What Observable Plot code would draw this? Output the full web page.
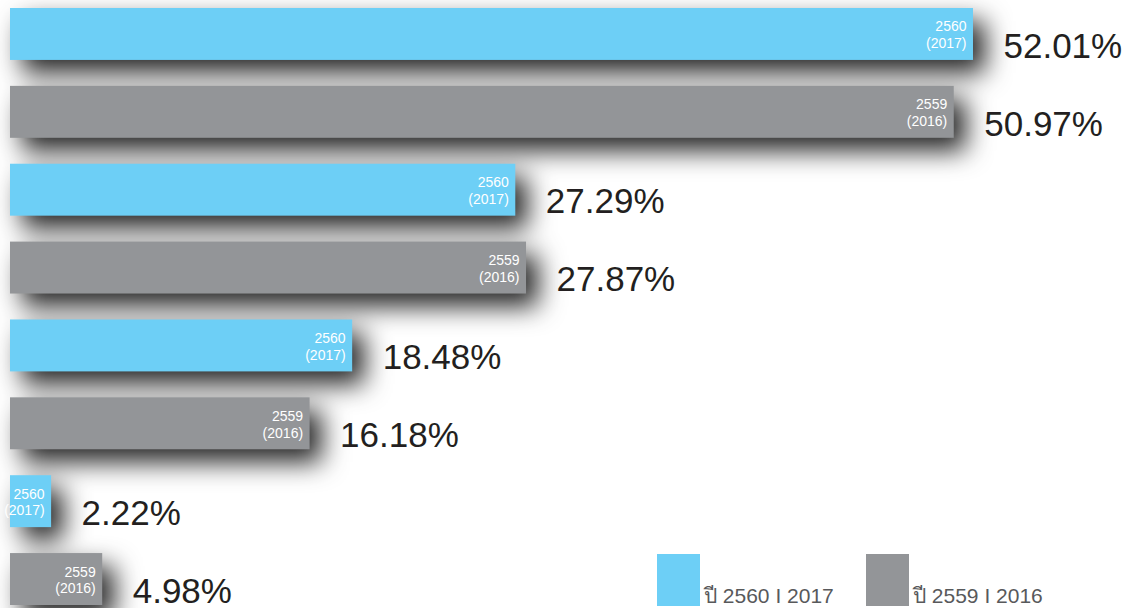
<!DOCTYPE html>
<html>
<head>
<meta charset="utf-8">
<script src="https://cdn.jsdelivr.net/npm/d3@7"></script>
<script src="https://cdn.jsdelivr.net/npm/@observablehq/plot@0.6"></script>
<style>
  html, body { margin: 0; padding: 0; background: #fff; }
  #wrap { position: relative; width: 1133px; height: 608px; overflow: hidden; }
  .legend { position: absolute; display: flex; align-items: flex-end; font-family: "Liberation Sans", "Noto Sans", "DejaVu Sans", sans-serif; font-size: 21px; color: #58595b; }
  .legend .sw { width: 43px; height: 52px; margin-right: 4px; }
  .legend span.t { line-height: 1; margin-bottom: 0px; }
</style>
</head>
<body>
<div id="wrap"></div>
<script>
// ---- data ----
const groups = ["g1", "g1", "g2", "g2", "g3", "g3", "g4", "g4"];
const thaiYears = ["2560", "2559", "2560", "2559", "2560", "2559", "2560", "2559"];
const ceYears = ["2017", "2016", "2017", "2016", "2017", "2016", "2017", "2016"];
const values = [52.01, 50.97, 27.29, 27.87, 18.48, 16.18, 2.22, 4.98];
const seriesNames = ["2560", "2559"];
const seriesColors = ["#6dcff6", "#939598"];
const legendLabels = ["ปี 2560 I 2017", "ปี 2559 I 2016"];

const data = values.map((v, i) => ({
  key: `${groups[i]}-${thaiYears[i]}`,
  year: thaiYears[i],
  ce: ceYears[i],
  value: v,
  inner: `${thaiYears[i]}\n(${ceYears[i]})`,
  label: `${v.toFixed(2)}%`
}));

const font = `"Liberation Sans", "Noto Sans", "DejaVu Sans", sans-serif`;

const chart = Plot.plot({
  width: 1133,
  height: 608,
  marginLeft: 10,
  marginRight: 160,
  marginTop: 8,
  marginBottom: 3,
  style: { fontFamily: font, background: "transparent" },
  x: { domain: [0, 52.01], axis: null },
  y: { domain: data.map(d => d.key), paddingInner: 0.333, paddingOuter: 0, round: false, axis: null },
  color: { domain: seriesNames, range: seriesColors },
  marks: [
    Plot.barX(data, { y: "key", x: "value", fill: "year", className: "bars" }),
    Plot.text(data, {
      y: "key", x: "value", text: "inner", textAnchor: "end", dx: -7,
      fill: "white", fontSize: 14, lineHeight: 1.2
    }),
    Plot.text(data, {
      y: "key", x: "value", text: "label", textAnchor: "start", dx: 30, dy: 12,
      fill: "#231f20", fontSize: 35
    })
  ]
});

document.getElementById("wrap").appendChild(chart);
chart.style.position = "absolute";
chart.style.left = "0";
chart.style.top = "0";
d3.select(chart).selectAll("g.bars, g[aria-label='bar']")
  .style("filter", "drop-shadow(12px 13px 13px rgba(0,0,0,0.85))");

// legend (overlaid in the lower right corner)
const legendPos = [657, 866];
legendLabels.forEach((lab, i) => {
  const div = document.createElement("div");
  div.className = "legend";
  div.style.left = legendPos[i] + "px";
  div.style.top = "554px";
  div.innerHTML = `<div class="sw" style="background:${seriesColors[i]}"></div><span class="t">${lab}</span>`;
  document.getElementById("wrap").appendChild(div);
});
</script>
</body>
</html>
